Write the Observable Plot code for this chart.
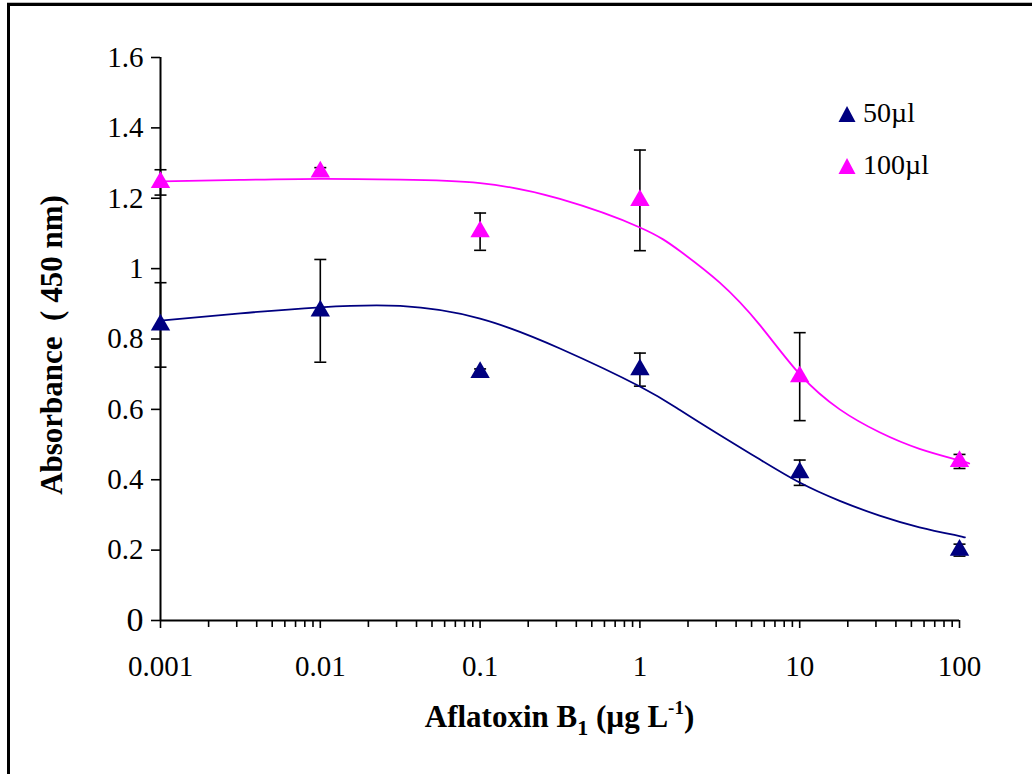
<!DOCTYPE html>
<html><head><meta charset="utf-8">
<script src="https://cdn.jsdelivr.net/npm/d3@7"></script>
<script src="https://cdn.jsdelivr.net/npm/@observablehq/plot@0.6"></script>
<style>
body{margin:0;background:#fff;}
#wrap{position:relative;width:1032px;height:774px;overflow:hidden;font-family:"Liberation Serif","Times New Roman",serif;color:#000;}
#frame{position:absolute;left:7px;top:3px;width:1100px;height:900px;border-top:3px solid #000;border-left:3px solid #000;box-shadow:0 -1px 0 #bbb;}
#chart{position:absolute;left:0;top:0;}
#xtitle{position:absolute;left:160px;width:799px;top:699px;text-align:center;font-weight:bold;font-size:31px;line-height:36px;}
#xtitle sub{font-size:22px;vertical-align:-8px;line-height:0;}
#xtitle sup{font-size:19px;vertical-align:13px;line-height:0;}
#ytitle{position:absolute;left:52px;top:345px;transform:translate(-50%,-50%) rotate(-90deg);white-space:nowrap;font-weight:bold;font-size:31px;}
.leg{position:absolute;font-size:28px;line-height:32px;}
.leg svg{vertical-align:-1px;margin-right:7px;}
</style></head><body>
<div id="wrap">
  <div id="frame"></div>
  <div id="chart"></div>
  <div id="ytitle">Absorbance&nbsp; ( 450 nm)</div>
  <div id="xtitle">Aflatoxin B<sub>1</sub> (µg L<sup>-1</sup>)</div>
  <div id="legend"></div>
</div>
<script>
// ---- data ----
const concentrations = [0.001, 0.01, 0.1, 1, 10, 100];
const series = ["50µl", "100µl"];
const colors = ["#000080", "#FF00FF"];
const mean50 = [0.84, 0.88, 0.705, 0.713, 0.42, 0.20];
const err50 = [0.12, 0.146, 0.01, 0.047, 0.036, 0.017];
const mean100 = [1.245, 1.275, 1.105, 1.194, 0.693, 0.452];
const err100 = [0.036, 0.012, 0.053, 0.143, 0.125, 0.02];
// fitted curves
const fitX50 = [0.001, 0.00316, 0.01, 0.0316, 0.1, 0.316, 1, 1.78, 3.16, 5.62, 10, 17.8, 31.6, 56.2, 100, 105];
const fitY50 = [0.852, 0.873, 0.89, 0.894, 0.858, 0.773, 0.665, 0.598, 0.527, 0.458, 0.392, 0.34, 0.298, 0.265, 0.24, 0.237];
const fitX100 = [0.001, 0.00316, 0.01, 0.0316, 0.1, 0.316, 1, 1.78, 3.16, 5.62, 10, 17.8, 31.6, 56.2, 100, 115];
const fitY100 = [1.248, 1.252, 1.255, 1.253, 1.243, 1.198, 1.117, 1.05, 0.96, 0.84, 0.70, 0.60, 0.535, 0.488, 0.455, 0.446];
// axes
const xTickValues = [0.001, 0.01, 0.1, 1, 10, 100];
const xTickLabels = ["0.001", "0.01", "0.1", "1", "10", "100"];
const xMinorTicks = [];
[0.001, 0.01, 0.1, 1, 10].forEach(d => { for (let k = 2; k <= 9; k++) xMinorTicks.push(+(d * k).toPrecision(3)); });
const yTickValues = [0, 0.2, 0.4, 0.6, 0.8, 1.0, 1.2, 1.4, 1.6];
const yTickLabels = ["0", "0.2", "0.4", "0.6", "0.8", "1", "1.2", "1.4", "1.6"];

// ---- build tables ----
const points = [];
concentrations.forEach((c, i) => {
  points.push({series: series[0], x: c, y: mean50[i], e: err50[i]});
  points.push({series: series[1], x: c, y: mean100[i], e: err100[i]});
});
const fits = [];
fitX50.forEach((x, i) => fits.push({series: series[0], x, y: fitY50[i]}));
fitX100.forEach((x, i) => fits.push({series: series[1], x, y: fitY100[i]}));

const capSymbol = {draw(ctx) { ctx.moveTo(-6, 0); ctx.lineTo(6, 0); }};

const plot = Plot.plot({
  width: 1032, height: 774,
  marginLeft: 160, marginRight: 73, marginTop: 57, marginBottom: 154,
  style: {fontFamily: "'Liberation Serif', 'Times New Roman', serif", fontSize: "29px", color: "#000", background: "transparent"},
  x: {type: "log", domain: [0.001, 100]},
  y: {domain: [0, 1.6]},
  color: {domain: series, range: colors},
  marks: [
    Plot.axisY({ticks: yTickValues, tickSize: 9, tickPadding: 8, tickFormat: d => yTickLabels[yTickValues.indexOf(d)], label: null, strokeWidth: 1.6}),
    Plot.axisX({ticks: xMinorTicks, tickSize: 7, tickFormat: () => "", label: null, strokeWidth: 1.6}),
    Plot.axisX({ticks: xTickValues, tickSize: 8, tickPadding: 27, tickFormat: d => xTickLabels[xTickValues.indexOf(d)], label: null, strokeWidth: 1.6}),
    Plot.ruleX([0.001], {stroke: "#000", strokeWidth: 2}),
    Plot.ruleY([0], {stroke: "#000", strokeWidth: 2}),
    Plot.ruleX(points, {x: "x", y1: d => d.y - d.e, y2: d => d.y + d.e, stroke: "#000", strokeWidth: 1.6}),
    Plot.dot(points, {x: "x", y: d => d.y - d.e, symbol: capSymbol, r: 5, fill: "none", stroke: "#000", strokeWidth: 1.6}),
    Plot.dot(points, {x: "x", y: d => d.y + d.e, symbol: capSymbol, r: 5, fill: "none", stroke: "#000", strokeWidth: 1.6}),
    Plot.line(fits, {x: "x", y: "y", z: "series", stroke: "series", strokeWidth: 1.8, curve: "natural"}),
    Plot.dot(points, {x: "x", y: "y", symbol: "triangle", r: 7.2, fill: "series", stroke: "none"})
  ]
});
document.getElementById("chart").appendChild(plot);
// larger "0" label like the reference
d3.select(plot).selectAll("text").filter(function() { return this.textContent === "0"; }).style("font-size", "34px");

// legend
const leg = document.getElementById("legend");
series.forEach((s, i) => {
  const div = document.createElement("div");
  div.className = "leg";
  div.style.left = "838px";
  div.style.top = (97 + i * 52) + "px";
  div.innerHTML = `<svg width="18" height="18" viewBox="0 0 18 18"><path d="M9 1 L17.5 17 L0.5 17 Z" fill="${colors[i]}"/></svg>${s}`;
  leg.appendChild(div);
});
</script>
</body></html>
